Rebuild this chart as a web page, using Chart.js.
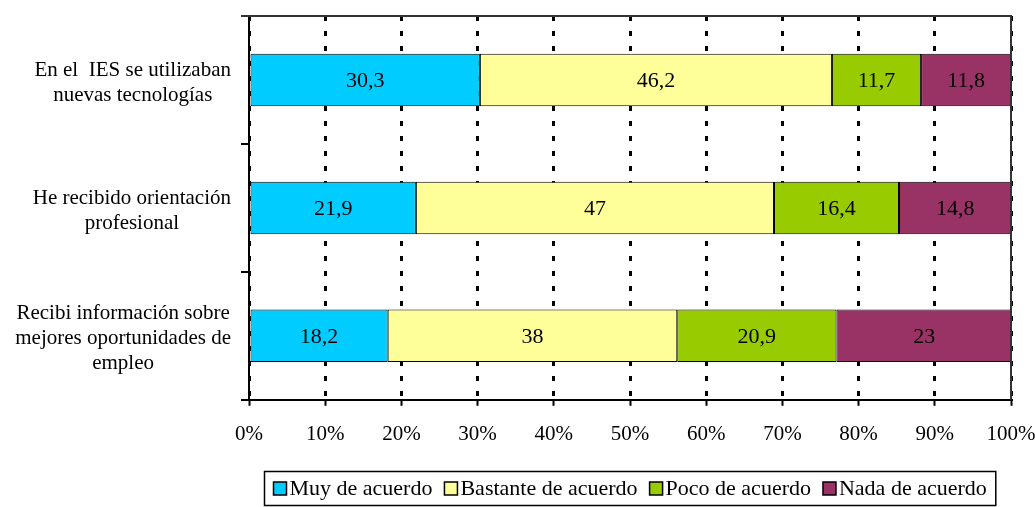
<!DOCTYPE html>
<html>
<head>
<meta charset="utf-8">
<script src="https://cdn.jsdelivr.net/npm/chart.js@4.4.1/dist/chart.umd.min.js"></script>
<style>
  html, body { margin: 0; padding: 0; background: #fff; }
  #wrap { width: 1035px; height: 507px; }
</style>
</head>
<body>
<div id="wrap"><canvas id="chart"></canvas></div>
<script>
// data
const categories = [
  ['En el  IES se utilizaban', 'nuevas tecnologías'],
  ['He recibido orientación', 'profesional'],
  ['Recibi información sobre', 'mejores oportunidades de', 'empleo']
];
const seriesNames = ['Muy de acuerdo', 'Bastante de acuerdo', 'Poco de acuerdo', 'Nada de acuerdo'];
const muyDeAcuerdo = [30.3, 21.9, 18.2];
const bastanteDeAcuerdo = [46.2, 47, 38];
const pocoDeAcuerdo = [11.7, 16.4, 20.9];
const nadaDeAcuerdo = [11.8, 14.8, 23];
const xTickValues = [0, 10, 20, 30, 40, 50, 60, 70, 80, 90, 100];

const colors = ['#00ccff', '#ffff99', '#99cc00', '#993366'];
const FONT = '"Liberation Serif", "Times New Roman", serif';

const seriesValues = [muyDeAcuerdo, bastanteDeAcuerdo, pocoDeAcuerdo, nadaDeAcuerdo];

// numbers in the middle of each segment, with a decimal comma
const valueLabels = {
  id: 'valueLabels',
  afterDatasetsDraw(chart) {
    const ctx = chart.ctx;
    ctx.save();
    ctx.font = '22px ' + FONT;
    ctx.fillStyle = '#000';
    ctx.textAlign = 'center';
    ctx.textBaseline = 'middle';
    chart.data.datasets.forEach((ds, i) => {
      chart.getDatasetMeta(i).data.forEach((bar, j) => {
        const p = bar.getProps(['x', 'y', 'base'], true);
        ctx.fillText(String(ds.data[j]).replace('.', ','), (p.x + p.base) / 2, p.y + 1);
      });
    });
    ctx.restore();
  }
};

// category labels: each one centred on itself, its widest line ending near the axis
const categoryLabels = {
  id: 'categoryLabels',
  afterDraw(chart) {
    const ctx = chart.ctx, ys = chart.scales.y;
    const lh = 25;
    ctx.save();
    ctx.font = '21px ' + FONT;
    ctx.fillStyle = '#000';
    ctx.textAlign = 'center';
    ctx.textBaseline = 'middle';
    chart.data.labels.forEach((lines, i) => {
      const widest = Math.max(...lines.map(l => ctx.measureText(l).width));
      const cx = ys.right - 18 - widest / 2;
      const cy = ys.getPixelForValue(i) + 3;
      lines.forEach((l, k) => {
        ctx.fillText(l, cx, cy + (k - (lines.length - 1) / 2) * lh);
      });
    });
    ctx.restore();
  }
};

// top/right frame of the plot, and the boxed legend under it
const frameAndLegend = {
  id: 'frameAndLegend',
  afterDraw(chart) {
    const ctx = chart.ctx, a = chart.chartArea;
    ctx.save();
    ctx.strokeStyle = '#333';
    ctx.lineWidth = 2;
    ctx.beginPath();
    ctx.moveTo(a.left - 8, a.top);
    ctx.lineTo(a.right, a.top);
    ctx.lineTo(a.right, a.bottom);
    ctx.stroke();

    // legend: small square, label right next to it
    ctx.font = '22px ' + FONT;
    const sq = 13, gapText = 3, gapItem = 12;
    const items = chart.data.datasets.map(ds => ({
      label: ds.label, color: ds.backgroundColor, w: ctx.measureText(ds.label).width
    }));
    const inner = items.reduce((s, it) => s + sq + gapText + it.w, 0) + gapItem * (items.length - 1);
    const boxW = inner + 18, boxH = 34;
    const boxX = Math.round((a.left + a.right - boxW) / 2) + 0.5;
    const boxY = chart.height - 35.5;
    ctx.strokeStyle = '#000';
    ctx.lineWidth = 1.5;
    ctx.strokeRect(boxX, boxY, boxW, boxH);

    let x = boxX + 9;
    const cy = boxY + boxH / 2;
    ctx.textAlign = 'left';
    ctx.textBaseline = 'middle';
    items.forEach(it => {
      ctx.fillStyle = it.color;
      ctx.fillRect(x, cy - sq / 2, sq, sq);
      ctx.strokeStyle = '#000';
      ctx.lineWidth = 1.5;
      ctx.strokeRect(x, cy - sq / 2, sq, sq);
      ctx.fillStyle = '#000';
      ctx.fillText(it.label, x + sq + gapText, cy + 1);
      x += sq + gapText + it.w + gapItem;
    });
    ctx.restore();
  }
};

new Chart(document.getElementById('chart'), {
  type: 'bar',
  data: {
    labels: categories,
    datasets: seriesNames.map((name, i) => ({
      label: name,
      data: seriesValues[i],
      backgroundColor: colors[i],
      borderColor: '#000',
      borderWidth: 1,
      borderSkipped: false,
      categoryPercentage: 1,
      barPercentage: 0.41
    }))
  },
  options: {
    indexAxis: 'y',
    responsive: true,
    maintainAspectRatio: false,
    animation: false,
    layout: { padding: { top: 16, right: 0, bottom: 44 } },
    scales: {
      x: {
        stacked: true,
        min: 0,
        max: 100,
        afterBuildTicks: (s) => { s.ticks = xTickValues.map(v => ({ value: v })); },
        // only half of the "100%" label should hang past the plot
        afterFit: (s) => { s.paddingLeft = 0; s.paddingRight = 24; },
        border: { color: '#000', width: 2, dash: [5, 10] },
        grid: {
          color: '#000',
          lineWidth: 3,
          tickBorderDash: [],
          tickColor: '#000',
          tickWidth: 2,
          tickLength: 6
        },
        ticks: {
          color: '#000',
          font: { family: FONT, size: 21 },
          padding: 16,
          maxRotation: 0,
          callback: (v) => v + '%'
        }
      },
      y: {
        stacked: true,
        afterFit: (s) => { s.width = 249; s.paddingTop = 0; s.paddingBottom = 0; },
        border: { color: '#000', width: 2 },
        grid: {
          offset: true,
          drawOnChartArea: false,
          color: '#000',
          lineWidth: 2,
          tickLength: 8
        },
        ticks: { display: false }
      }
    },
    plugins: {
      tooltip: { enabled: false },
      legend: { display: false }
    }
  },
  plugins: [valueLabels, categoryLabels, frameAndLegend]
});
</script>
</body>
</html>
